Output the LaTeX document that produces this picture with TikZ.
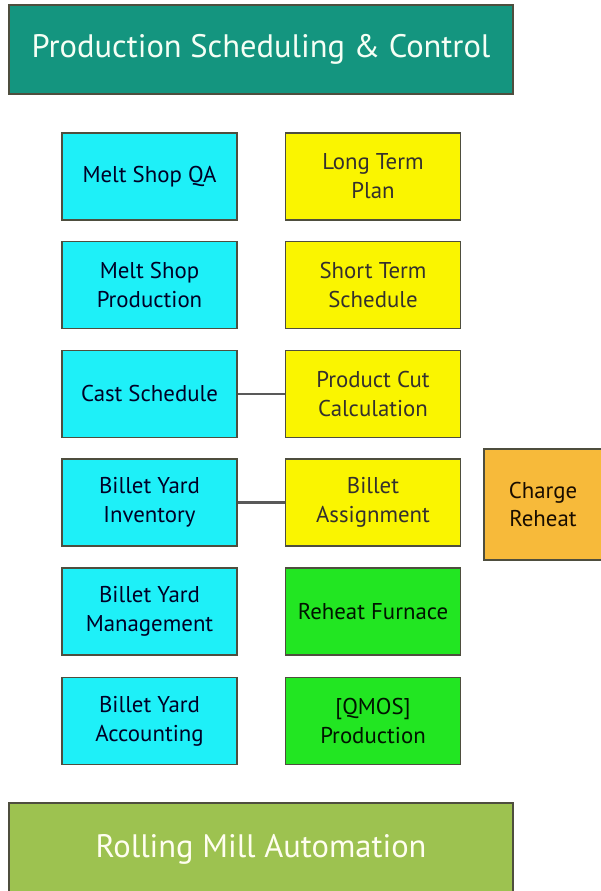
\documentclass[tikz,border=0pt]{standalone}
\usepackage{fontspec}
\setmainfont{PT Sans}
\usetikzlibrary{positioning}

\definecolor{tealbar}{HTML}{14957F}
\definecolor{olivebar}{HTML}{9DC250}
\definecolor{qacyan}{HTML}{1EF0F8}
\definecolor{planyellow}{HTML}{FAF500}
\definecolor{furngreen}{HTML}{22E622}
\definecolor{reheatorange}{HTML}{F7BA3A}
\definecolor{edgegray}{HTML}{4E4E3E}

\tikzset{
  cell/.style={draw=edgegray, line width=1pt, minimum width=3.5cm, minimum height=1.74cm,
    align=center, font=\fontsize{13}{16.5}\selectfont, inner sep=2pt},
  shopcell/.style={cell, fill=qacyan, text=black!85!blue},
  plancell/.style={cell, fill=planyellow, text=black!92!yellow},
  furncell/.style={cell, fill=furngreen, text=black!92!green},
  bar/.style={draw=edgegray, line width=1pt, minimum width=10.08cm, minimum height=1.78cm,
    font=\fontsize{18.5}{22}\selectfont},
  link/.style={draw=black!65, line width=1.5pt}
}

\begin{document}
\begin{tikzpicture}[x=0.02cm, y=-0.02cm]
  \useasboundingbox (0,0) rectangle (600,891);
  \node[bar, fill=tealbar, text=green!4] (psc) at (261,49.5) {Production Scheduling \& Control};

  \node[shopcell] (qa) at (149.5,176.5) {Melt Shop QA};
  \node[shopcell] (msp) at (149.5,285) {Melt Shop\\Production};
  \node[shopcell] (cast) at (149.5,394) {Cast Schedule};
  \node[shopcell] (inv) at (149.5,502.5) {Billet Yard\\Inventory};
  \node[shopcell] (mgmt) at (149.5,611.5) {Billet Yard\\Management};
  \node[shopcell] (acct) at (149.5,721) {Billet Yard\\Accounting};

  \node[plancell] (ltp) at (373,176.5) {Long Term\\Plan};
  \node[plancell] (sts) at (373,285) {Short Term\\Schedule};
  \node[plancell] (cut) at (373,394) {Product Cut\\Calculation};
  \node[plancell] (assign) at (373,502.5) {Billet\\Assignment};
  \node[furncell] (furnace) at (373,611.5) {Reheat Furnace};
  \node[furncell] (qmos) at (373,721) {[QMOS]\\Production};

  \node[cell, fill=reheatorange, text=black!90!orange, minimum width=2.36cm, minimum height=2.22cm]
    (charge) at (543,504.5) {Charge\\Reheat};

  \node[bar, fill=olivebar, text=yellow!6, minimum height=1.84cm] (rma) at (261,849) {Rolling Mill Automation};

  \draw[link] (cast) -- (cut);
  \draw[link] (inv) -- (assign);
\end{tikzpicture}
\end{document}
